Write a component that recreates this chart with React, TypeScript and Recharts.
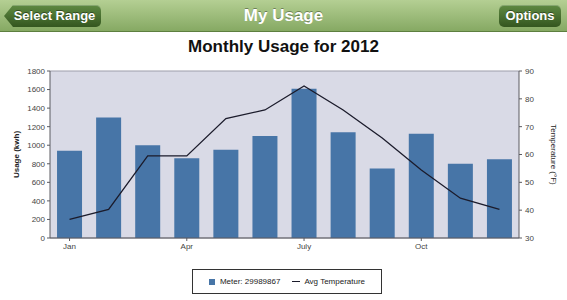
import { ComposedChart, Bar, Line, XAxis, YAxis, CartesianGrid, Label } from 'recharts';

// Monthly usage (kWh) and average temperature (°F)
const months = ['Jan', 'Feb', 'Mar', 'Apr', 'May', 'Jun', 'July', 'Aug', 'Sep', 'Oct', 'Nov', 'Dec'];
const usageKwh = [940, 1300, 1000, 860, 950, 1100, 1610, 1140, 750, 1125, 800, 850];
const avgTempF = [36.7, 40.3, 59.5, 59.5, 72.9, 76, 84.6, 76, 65.9, 54.4, 44.3, 40.3];
const usageTicks = [0, 200, 400, 600, 800, 1000, 1200, 1400, 1600, 1800];
const tempTicks = [30, 40, 50, 60, 70, 80, 90];
const monthTicks = ['Jan', 'Apr', 'July', 'Oct'];

const data = months.map((m, i) => ({ month: m, usage: usageKwh[i], temp: avgTempF[i] }));

const FONT = '"Liberation Sans", Arial, Helvetica, sans-serif';
const BAR = '#4775a7';
const LINE = '#1b1b2b';
const AXIS = '#5a5a60';
const TICK = '#444';

function NavButton({ text, left, width, back }: { text: string; left: number; width: number; back?: boolean }) {
  return (
    <div
      style={{
        position: 'absolute',
        left,
        top: 5,
        width,
        height: 22,
        background: 'linear-gradient(#5f8a42, #34561f)',
        borderRadius: 5,
        clipPath: back ? 'polygon(9px 0, 100% 0, 100% 100%, 9px 100%, 0 50%)' : undefined,
        boxShadow: 'inset 0 1px 0 rgba(255,255,255,0.25)',
        color: '#fff',
        fontWeight: 'bold',
        fontSize: 13,
        lineHeight: '22px',
        textAlign: 'center',
        paddingLeft: back ? 4 : 0,
        boxSizing: 'border-box',
        textShadow: '0 -1px 0 rgba(0,0,0,0.4)',
      }}
    >
      {text}
    </div>
  );
}

export default function App() {
  return (
    <div
      style={{
        position: 'absolute',
        left: 0,
        top: 0,
        width: 567,
        height: 300,
        background: '#fff',
        fontFamily: FONT,
        overflow: 'hidden',
      }}
    >
      {/* header bar */}
      <div
        style={{
          position: 'absolute',
          left: 0,
          top: 0,
          width: 567,
          height: 31,
          background: 'linear-gradient(#b4cf93, #86a963)',
          borderBottom: '1px solid #5d7f3f',
        }}
      >
        <NavButton text="Select Range" left={4} width={97} back />
        <div
          style={{
            position: 'absolute',
            left: 0,
            width: 567,
            top: 5,
            textAlign: 'center',
            color: '#fff',
            fontWeight: 'bold',
            fontSize: 17,
            lineHeight: '22px',
            textShadow: '0 -1px 0 rgba(0,0,0,0.35)',
          }}
        >
          My Usage
        </div>
        <NavButton text="Options" left={499} width={62} />
      </div>

      <div
        style={{
          position: 'absolute',
          left: 0,
          width: 567,
          top: 37,
          textAlign: 'center',
          fontWeight: 'bold',
          fontSize: 17,
          color: '#111',
        }}
      >
        Monthly Usage for 2012
      </div>

      <div style={{ position: 'absolute', left: 0, top: 0 }}>
        <ComposedChart
          width={567}
          height={300}
          data={data}
          margin={{ top: 71, right: 0, bottom: 42, left: 0 }}
          barCategoryGap="18%"
          style={{ fontFamily: FONT }}
        >
          <CartesianGrid vertical={false} stroke="#9d9daa" fill="#d9dae6" />
          <XAxis
            dataKey="month"
            ticks={monthTicks}
            interval={0}
            height={20}
            stroke={AXIS}
            tickSize={3}
            tick={{ fontSize: 8, fill: TICK }}
          />
          <YAxis
            yAxisId="usage"
            width={50}
            domain={[0, 1800]}
            ticks={usageTicks}
            stroke={AXIS}
            tickSize={3}
            tickMargin={2}
            tick={{ fontSize: 8, fill: TICK }}
          >
            <Label
              value="Usage (kwh)"
              angle={-90}
              position="insideLeft"
              offset={16}
              style={{ fontSize: 8, fontWeight: 'bold', fill: '#222', textAnchor: 'middle' }}
            />
          </YAxis>
          <YAxis
            yAxisId="temp"
            orientation="right"
            width={48}
            domain={[30, 90]}
            ticks={tempTicks}
            stroke={AXIS}
            tickSize={3}
            tickMargin={3}
            tick={{ fontSize: 8, fill: TICK }}
          >
            <Label
              value="Temperature (°F)"
              angle={90}
              position="insideRight"
              offset={13}
              style={{ fontSize: 8, fill: '#222', textAnchor: 'middle' }}
            />
          </YAxis>
          <Bar yAxisId="usage" dataKey="usage" fill={BAR} isAnimationActive={false} />
          <Line
            yAxisId="temp"
            type="linear"
            dataKey="temp"
            stroke={LINE}
            strokeWidth={1.3}
            dot={false}
            isAnimationActive={false}
          />
        </ComposedChart>
      </div>

      {/* legend */}
      <div
        style={{
          position: 'absolute',
          left: 192,
          top: 269,
          width: 190,
          height: 25,
          border: '1px solid #333',
          boxSizing: 'border-box',
          display: 'flex',
          alignItems: 'center',
          justifyContent: 'center',
          gap: 12,
          fontSize: 8,
          color: '#222',
        }}
      >
        <span style={{ display: 'flex', alignItems: 'center' }}>
          <span style={{ display: 'inline-block', width: 6, height: 6, background: BAR, marginRight: 5 }} />
          Meter: 29989867
        </span>
        <span style={{ display: 'flex', alignItems: 'center' }}>
          <span style={{ display: 'inline-block', width: 8, height: 1, background: LINE, marginRight: 4 }} />
          Avg Temperature
        </span>
      </div>
    </div>
  );
}
